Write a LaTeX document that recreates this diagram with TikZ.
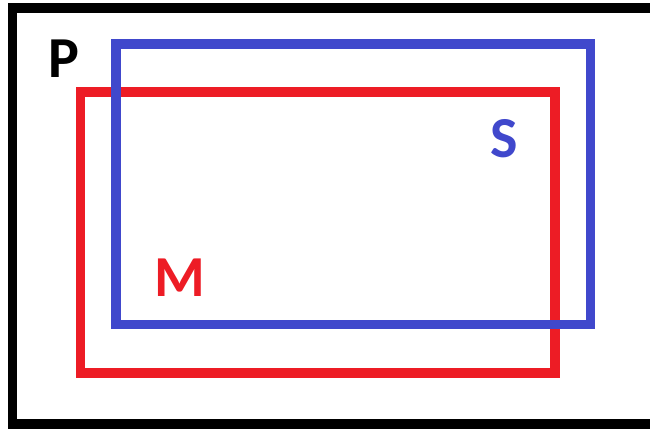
\documentclass[tikz,border=0pt]{standalone}
\usepackage{fontspec}
\setmainfont{Carlito}
\definecolor{setblue}{RGB}{64,72,204}
\definecolor{setred}{RGB}{237,28,37}
\begin{document}
\begin{tikzpicture}[x=1pt,y=-1pt, line join=miter]
\useasboundingbox (0,0) rectangle (650,428);
\tikzset{setlabel/.style={inner sep=0pt, font=\fontsize{58}{58}\selectfont\bfseries}}

\draw[line width=9.5pt] (660,8)--(12.5,8)--(12.5,424)--(660,424);
\draw[setred, line width=9.5pt] (80.5,92) rectangle (555,373);
\draw[setblue, line width=9.5pt] (116,44) rectangle (590.5,324.5);

\node[setlabel] (P) at (64,58.5) {P};
\node[setlabel, text=setblue] (S) at (504,138.5) {S};
\node[setlabel, text=setred] (M) at (180,277.5) {M};

\end{tikzpicture}
\end{document}
